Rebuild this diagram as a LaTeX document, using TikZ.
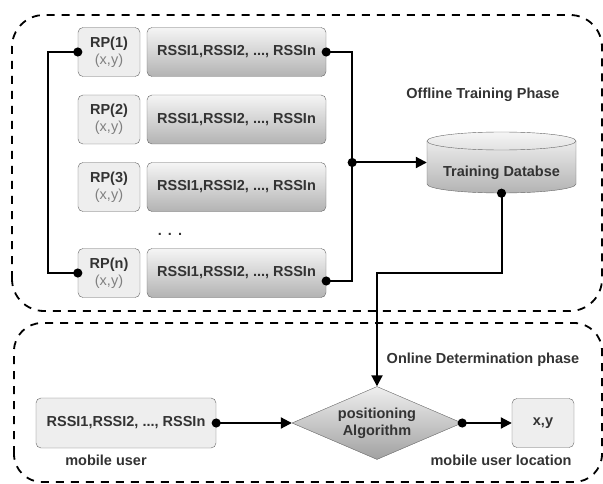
\documentclass[tikz,border=0pt]{standalone}
\usepackage{fontspec}
\setmainfont{Liberation Sans}
\usetikzlibrary{arrows.meta,shapes.geometric,calc}
\definecolor{strokeg}{HTML}{666666}
\definecolor{fillg}{HTML}{EEEEEE}
\definecolor{gradtop}{HTML}{F5F5F5}
\definecolor{gradbot}{HTML}{B3B3B3}
\definecolor{txt}{HTML}{333333}
\definecolor{xyc}{HTML}{808080}
\newcommand\myfs{\fontsize{14.5}{17}\selectfont}
\begin{document}
\begin{tikzpicture}[x=1pt,y=1pt,
  phase/.style={draw=black, line width=1.8pt, dash pattern=on 8pt off 7pt},
  rpbox/.style={draw=strokeg, fill=fillg, rounded corners=5pt, minimum width=62pt,
    minimum height=49pt, inner sep=0pt, align=center, font=\myfs\bfseries, text=txt},
  rssbox/.style={draw=strokeg, top color=gradtop, bottom color=gradbot, rounded corners=5pt,
    minimum width=179pt, minimum height=49pt, inner sep=0pt, font=\myfs\bfseries, text=txt},
  flatbox/.style={draw=strokeg, fill=fillg, rounded corners=5pt, inner sep=0pt,
    font=\myfs\bfseries, text=txt},
  lbl/.style={font=\myfs\bfseries, text=txt, inner sep=0pt},
  conn/.style={draw=black, line width=2pt},
  dotdot/.style={{Circle[length=9pt]}-{Circle[length=9pt]}, shorten <=-4.5pt, shorten >=-4.5pt},
  dotarrow/.style={{Circle[length=9pt]}-{Triangle[length=11pt,width=11pt]}, shorten <=-4.5pt},
]
\useasboundingbox (0,0) rectangle (603,483);

% phase frames
\draw[phase, rounded corners=32pt] (12,172) rectangle (602,468);
\draw[phase, rounded corners=28pt] (14,1) rectangle (602,160);

% reference points
\node[rpbox] (rp1) at (109,431) {RP(1)\\{\mdseries\color{xyc}(x,y)}};
\node[rpbox] (rp2) at (109,363.5) {RP(2)\\{\mdseries\color{xyc}(x,y)}};
\node[rpbox] (rp3) at (109,296) {RP(3)\\{\mdseries\color{xyc}(x,y)}};
\node[rpbox] (rpn) at (109,210) {RP(n)\\{\mdseries\color{xyc}(x,y)}};

\node[rssbox] (s1) at (236.5,431) {RSSI1,RSSI2, ..., RSSIn};
\node[rssbox] (s2) at (236.5,363.5) {RSSI1,RSSI2, ..., RSSIn};
\node[rssbox] (s3) at (236.5,296) {RSSI1,RSSI2, ..., RSSIn};
\node[rssbox] (sn) at (236.5,210) {RSSI1,RSSI2, ..., RSSIn};

\node[lbl] (dots) at (170,249) {.\hspace{6pt}.\hspace{6pt}.};

% database
\node[minimum width=149pt, minimum height=61pt, inner sep=0pt] (db) at (501.5,320.5) {};
\path[draw=strokeg, top color=gradtop, bottom color=gradbot]
  (427,342) -- (427,299) arc[start angle=180,end angle=360,x radius=74.5,y radius=9]
  -- (576,342) arc[start angle=0,end angle=180,x radius=74.5,y radius=9] -- cycle;
\draw[strokeg] (427,342) arc[start angle=180,end angle=360,x radius=74.5,y radius=9];
\node[lbl] (dbt) at (501.5,310) {Training Databse};

\node[lbl] (off) at (483,388) {Offline Training Phase};
\node[lbl] (onl) at (483,123) {Online Determination phase};

% online part
\node[flatbox, minimum width=180pt, minimum height=50pt] (mu) at (126,60) {RSSI1,RSSI2, ..., RSSIn};
\node[diamond, draw=strokeg, top color=gradtop!90!gradbot, bottom color=gradbot!90!black,
  minimum width=170pt, minimum height=73pt, aspect=2.33, inner sep=0pt, align=center,
  font=\myfs\bfseries, text=txt] (alg) at (377,60) {positioning\\Algorithm};
\node[flatbox, minimum width=62pt, minimum height=49pt] (loc) at (543,60) {x,y};
\node[lbl] (mul) at (106,23) {mobile user};
\node[lbl] (locl) at (501,23) {mobile user location};

% connectors
\coordinate (rb) at ([xshift=26pt]s1.east);
\draw[conn, dotdot] (rp1.west) -- ++(-30,0) |- (rpn.west);
\draw[conn, dotdot] (s1.east) -- (rb) |- ([yshift=-8pt]sn.east);
\draw[conn, dotarrow] (rb |- db.west) -- (db.west);
\draw[conn, dotarrow] (db.south) -- ++(0,-80) -| (alg.north);
\draw[conn, dotarrow] (mu.east) -- (alg.west);
\draw[conn, dotarrow] (alg.east) -- (loc.west);
\end{tikzpicture}
\end{document}
